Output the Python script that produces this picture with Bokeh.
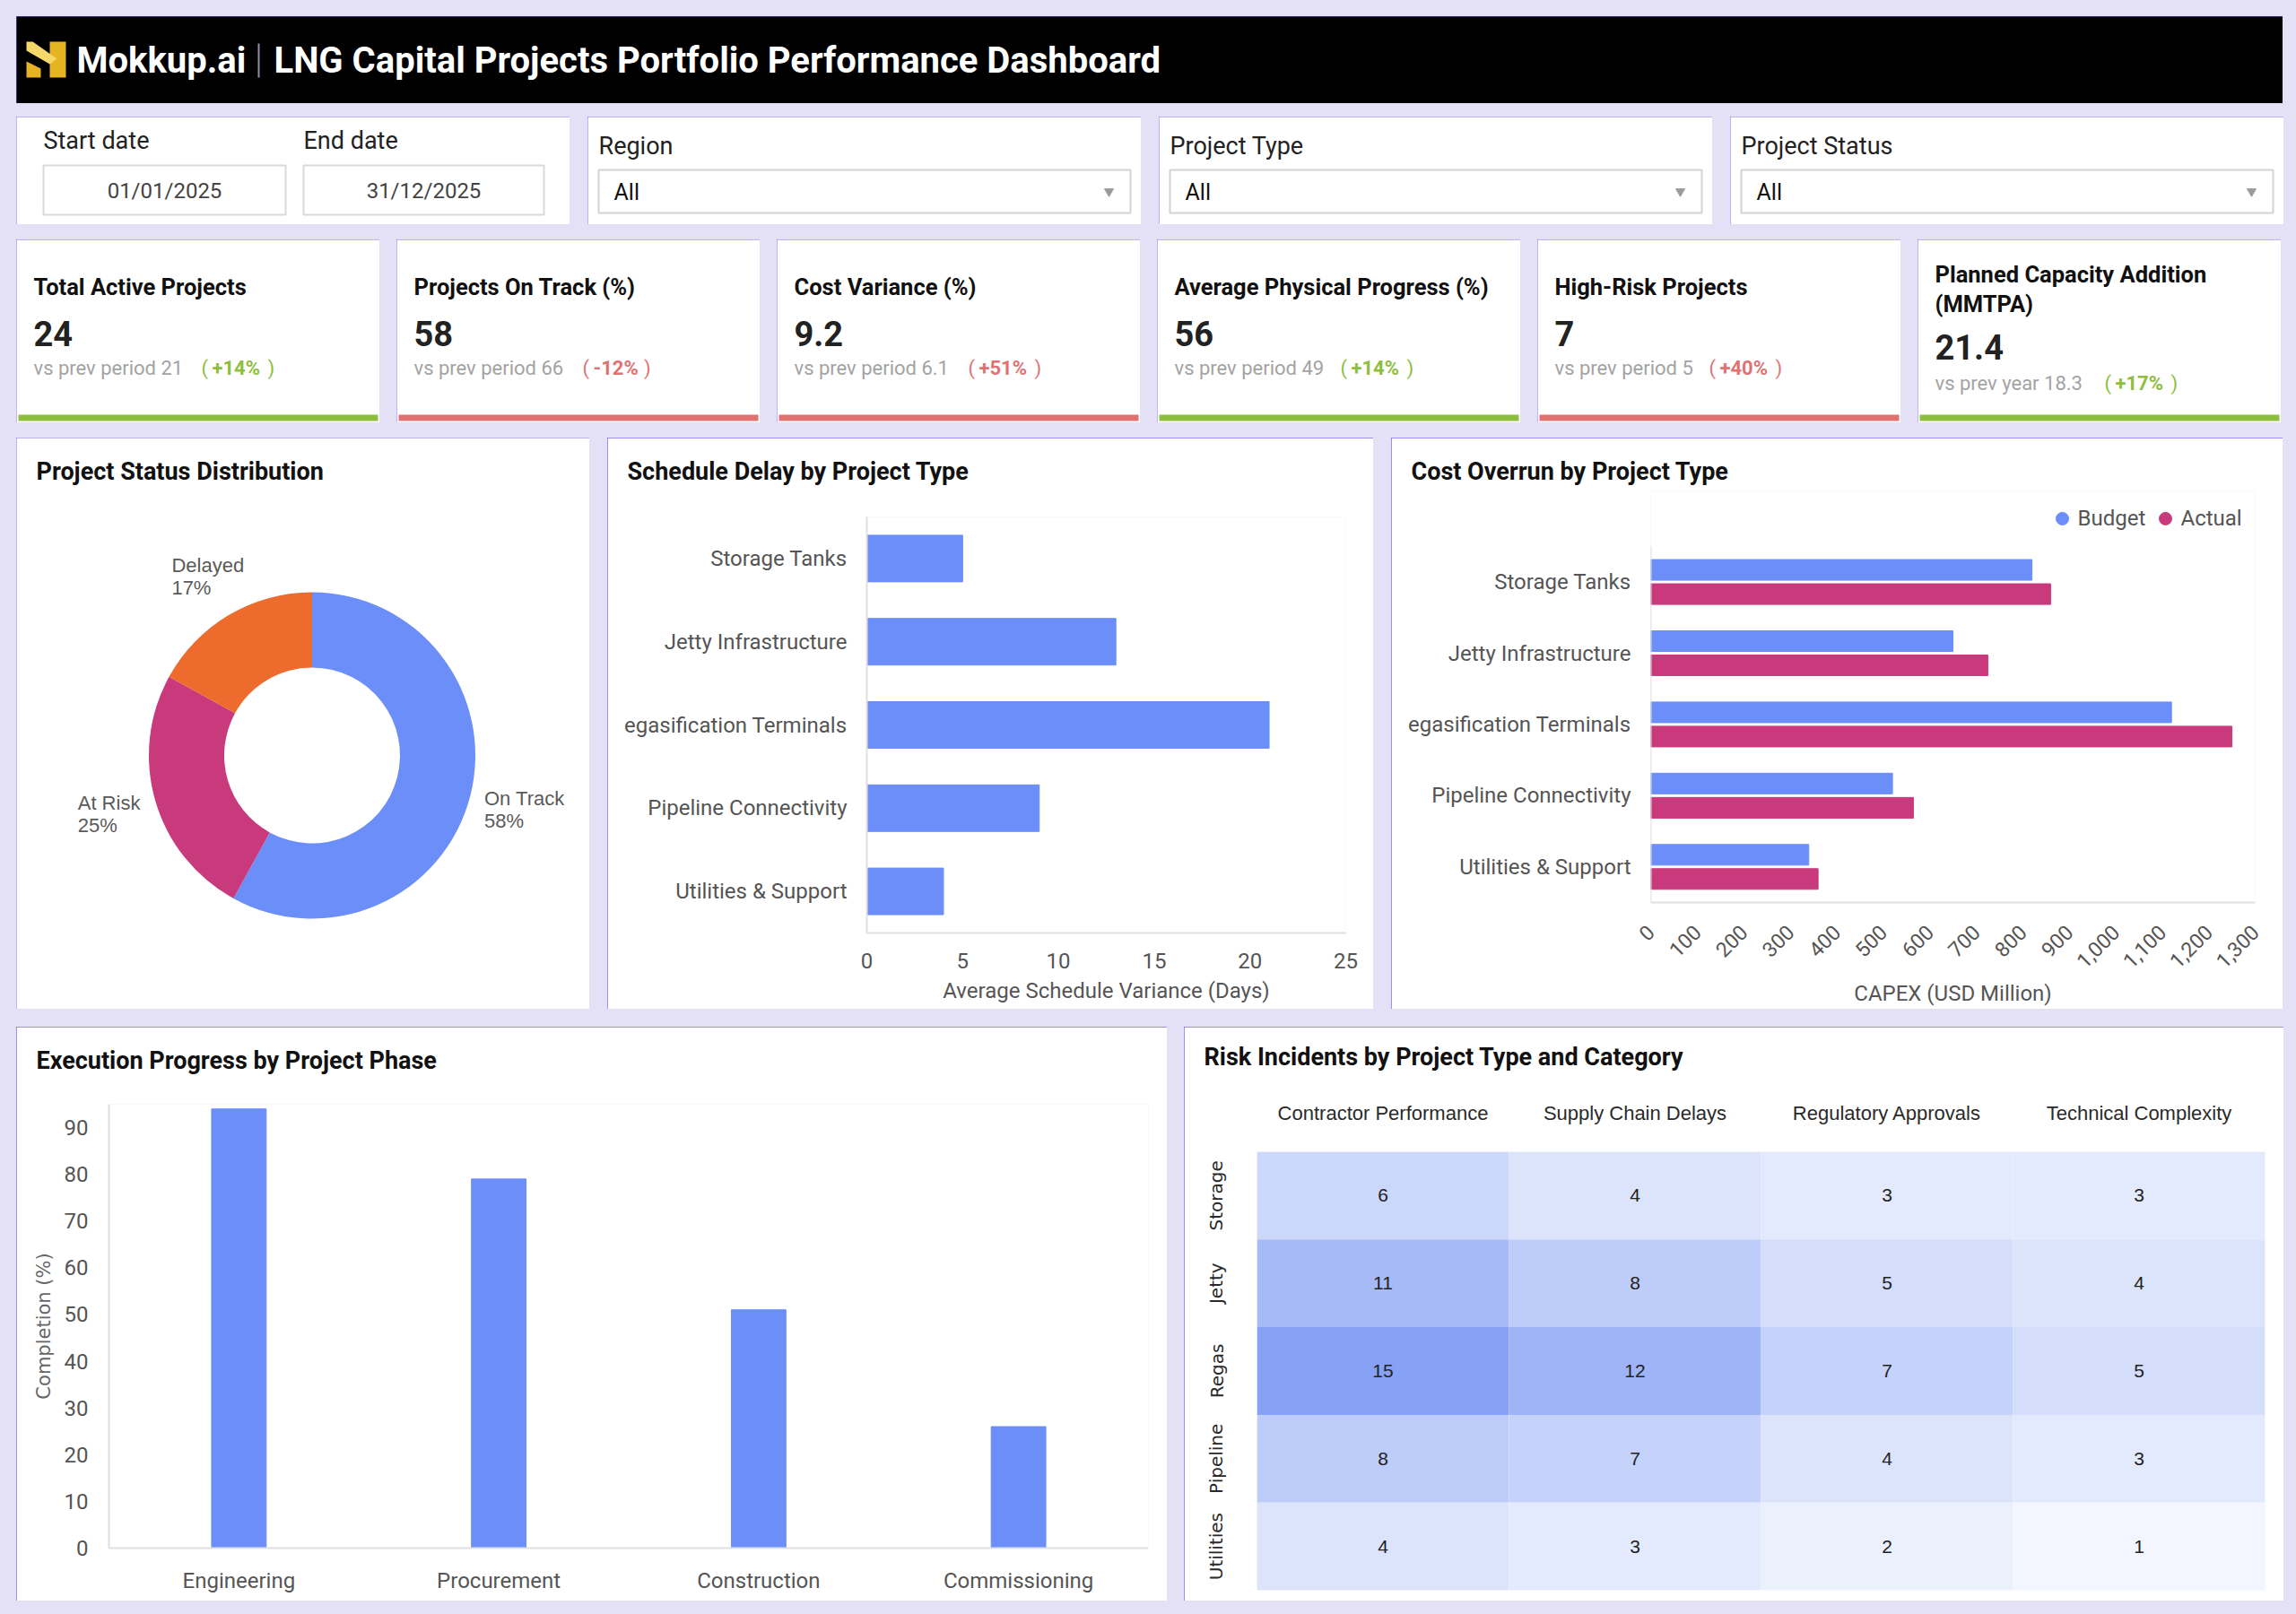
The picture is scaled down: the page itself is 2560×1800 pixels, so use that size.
import math
import numpy as np
from bokeh.plotting import figure
from bokeh.layouts import row, column
from bokeh.models import (Range1d, FactorRange, Title, FixedTicker,
                          NumeralTickFormatter, LinearColorMapper, ColumnDataSource, Spacer)
from bokeh.transform import transform
from bokeh.core.properties import value
from bokeh.embed import file_html
from bokeh.resources import INLINE

# ---------------- data ----------------
brand = "Mokkup.ai"
dash_title = "LNG Capital Projects Portfolio Performance Dashboard"

start_date = "01/01/2025"
end_date = "31/12/2025"
filter_labels = ["Region", "Project Type", "Project Status"]
filter_values = ["All", "All", "All"]

kpi_titles = ["Total Active Projects", "Projects On Track (%)", "Cost Variance (%)",
              "Average Physical Progress (%)", "High-Risk Projects",
              "Planned Capacity Addition\n(MMTPA)"]
kpi_values = ["24", "58", "9.2", "56", "7", "21.4"]
kpi_prev = ["vs prev period 21", "vs prev period 66", "vs prev period 6.1",
            "vs prev period 49", "vs prev period 5", "vs prev year 18.3"]
kpi_change = ["+14%", "-12%", "+51%", "+14%", "+40%", "+17%"]
kpi_good = [True, False, False, True, False, True]

status_names = ["On Track", "At Risk", "Delayed"]
status_share = [58, 25, 17]

# axis labels as they appear (the long one is cut at the panel edge in the original)
project_types = ["Storage Tanks", "Jetty Infrastructure", "egasification Terminals",
                 "Pipeline Connectivity", "Utilities & Support"]
delay_days = [5, 13, 21, 9, 4]
capex_series = ["Budget", "Actual"]
capex_budget = [820, 650, 1120, 520, 340]
capex_actual = [860, 725, 1250, 565, 360]
delay_ticks = [0, 5, 10, 15, 20, 25]
capex_ticks = list(range(0, 1301, 100))

phases = ["Engineering", "Procurement", "Construction", "Commissioning"]
phase_completion = [94, 79, 51, 26]
phase_ticks = list(range(0, 91, 10))

risk_types = ["Storage", "Jetty", "Regas", "Pipeline", "Utilities"]
risk_categories = ["Contractor Performance", "Supply Chain Delays",
                   "Regulatory Approvals", "Technical Complexity"]
risk_counts = [[6, 4, 3, 3],
               [11, 8, 5, 4],
               [15, 12, 7, 5],
               [8, 7, 4, 3],
               [4, 3, 2, 1]]

# ---------------- style ----------------
BG = "#E4E1F6"
BORDER = "#7B68EE"
BLUE = "#6C8EF8"
MAGENTA = "#C93A7C"
ORANGE = "#EC6B2D"
GREEN = "#8DBE3C"
RED = "#E07272"
AXIS_GREY = "#E0E0E0"
LABEL_GREY = "#555555"
status_colors = [BLUE, MAGENTA, ORANGE]
BASE_SHIFT = 0.35  # alphabetic baseline correction (em)
TITLE_SIZE = 27


def panel_styles(w=2):
    return {"outline": f"{w}px solid {BORDER}", "outline-offset": f"-{w}px"}


def pixel_fig(w, h, bg="white", flip=True, border=2):
    p = figure(width=w, height=h, x_range=Range1d(0, w),
               y_range=(Range1d(h, 0) if flip else Range1d(0, h)),
               x_axis_type=None, y_axis_type=None, title=None,
               toolbar_location=None, output_backend="svg", min_border=0,
               frame_align=False, styles=panel_styles(border))
    p.background_fill_color = bg
    p.border_fill_color = bg
    p.outline_line_color = None
    return p


def put_text(p, x, y, s, size, color="#222222", bold=False, font="Roboto",
             align="left", baseline="alphabetic", flip=True):
    if baseline == "alphabetic":
        y = y - BASE_SHIFT * size if flip else y + BASE_SHIFT * size
    p.text(x=[x], y=[y], text=[s], text_font=value(font),
           text_font_size=value(f"{size}px"), text_color=color,
           text_font_style=("bold" if bold else "normal"),
           text_align=align, text_baseline=baseline)


def chart_fig(w, h, left, right, top, bottom, x_range, y_range, **kw):
    p = figure(width=w, height=h, x_range=x_range, y_range=y_range, title=None,
               toolbar_location=None, output_backend="svg",
               min_border_left=left, min_border_right=right,
               min_border_top=top, min_border_bottom=bottom,
               frame_align=False, styles=panel_styles(2), **kw)
    p.background_fill_color = "white"
    p.border_fill_color = "white"
    p.outline_line_color = None
    p.xgrid.grid_line_color = None
    p.ygrid.grid_line_color = None
    return p


def add_title(p, text, frame_left, gap):
    # invisible spacer between frame/axis and the title
    p.add_layout(Title(text=" ", text_font_size="1px", standoff=gap), "above")
    p.add_layout(Title(text=text, align="left", offset=22 - frame_left, vertical_align="middle",
                       standoff=0, text_font="Roboto", text_font_size=f"{TITLE_SIZE}px",
                       text_font_style="bold", text_color="#111111"), "above")


def style_axis(ax, size=24, color=LABEL_GREY, font="Roboto", line=AXIS_GREY):
    ax.major_label_text_font = font
    ax.major_label_text_font_size = f"{size}px"
    ax.major_label_text_color = color
    ax.major_tick_line_color = None
    ax.minor_tick_line_color = None
    ax.major_tick_out = 0
    ax.major_tick_in = 0
    ax.axis_line_color = line
    ax.axis_line_width = 2
    ax.axis_label_text_font = font
    ax.axis_label_text_font_size = f"{size}px"
    ax.axis_label_text_color = color
    ax.axis_label_text_font_style = "normal"


CHAR_W = {"+": 0.57, "-": 0.32, "%": 0.74, ".": 0.27}


def est_width(s, size):
    return sum(CHAR_W.get(ch, 0.57) for ch in s) * size


# ---------------- header ----------------
hdr = pixel_fig(2527, 97, bg="black", border=3)
lx, ly = 11, 28
hdr.patches(xs=[[lx + 26, lx + 44, lx + 44, lx + 26],
                [lx + 0, lx + 16, lx + 16, lx + 0],
                [lx + 0, lx + 7, lx + 34, lx + 26, lx + 0]],
            ys=[[ly + 0, ly + 0, ly + 40, ly + 40],
                [ly + 22, ly + 30, ly + 40, ly + 40],
                [ly + 0, ly + 0, ly + 19, ly + 25, ly + 10]],
            fill_color=["#E6B422", "#E6B422", "#F6D86A"], line_color=None)
put_text(hdr, 67, 63, brand, 40, "white", bold=True)
hdr.segment(x0=[270], y0=[30], x1=[270], y1=[68], line_color="#8C90A8", line_width=2)
put_text(hdr, 287, 63, dash_title, 40, "white", bold=True)

# ---------------- filters ----------------
FW, FH = 617, 120
f_date = pixel_fig(FW, FH)
put_text(f_date, 30, 36, "Start date", 27)
put_text(f_date, 320, 36, "End date", 27)
f_date.quad(left=[30, 320], right=[300, 588], top=[54, 54], bottom=[109, 109],
            fill_color="white", line_color="#D9D9D9", line_width=2)
put_text(f_date, 165, 82, start_date, 24, "#444444", align="center", baseline="middle")
put_text(f_date, 454, 82, end_date, 24, "#444444", align="center", baseline="middle")
filter_figs = [f_date]
for lab, val in zip(filter_labels, filter_values):
    f = pixel_fig(FW, FH)
    put_text(f, 12, 42, lab, 27)
    f.quad(left=[12], right=[605], top=[59], bottom=[107], fill_color="white",
           line_color="#D3D3D3", line_width=2)
    put_text(f, 29, 84, val, 25, "#111111", baseline="middle")
    f.scatter(x=[581], y=[83], marker="inverted_triangle", size=10, color="#9B9B9B")
    filter_figs.append(f)

# ---------------- KPI cards ----------------
KW, KH = 405, 204
delta_x = [206, 207, 213, 204, 191, 208]
kpi_figs = []
for i in range(6):
    k = pixel_fig(KW, KH)
    lines = kpi_titles[i].split("\n")
    if len(lines) == 1:
        ty, vy, sy = [61], 118, 151
    else:
        ty, vy, sy = [47, 80], 133, 168
    for ln, yy in zip(lines, ty):
        put_text(k, 19, yy, ln, 25.5, "#111111", bold=True)
    put_text(k, 19, vy, kpi_values[i], 38, "#222222", bold=True)
    put_text(k, 19, sy, kpi_prev[i], 22, "#A3A3A3")
    col = GREEN if kpi_good[i] else RED
    x0 = delta_x[i]
    put_text(k, x0, sy, "(", 22, col)
    put_text(k, x0 + 12, sy, kpi_change[i], 22, col, bold=True)
    put_text(k, x0 + 12 + est_width(kpi_change[i], 22) + 8, sy, ")", 22, col)
    k.quad(left=[2], right=[KW - 2], top=[KH - 9], bottom=[KH - 2], fill_color=col, line_color=None)
    kpi_figs.append(k)

# ---------------- donut ----------------
DW, DH = 639, 637
donut = pixel_fig(DW, DH, flip=False)
put_text(donut, 22, DH - 47, "Project Status Distribution", TITLE_SIZE, "#111111", bold=True, flip=False)
cx, cy = 329.5, 283
frac = np.array(status_share, dtype=float) / sum(status_share)
cum = np.concatenate([[0.0], np.cumsum(frac)])
starts = np.pi / 2 - 2 * np.pi * cum[:-1]
ends = np.pi / 2 - 2 * np.pi * cum[1:]
dsrc = ColumnDataSource(dict(x=[cx] * 3, y=[cy] * 3, s=starts, e=ends, c=status_colors))
donut.annular_wedge(x="x", y="y", inner_radius=98, outer_radius=182, start_angle="s",
                    end_angle="e", direction="clock", fill_color="c", line_color=None, source=dsrc)
mids = (starts + ends) / 2
for name, share, m in zip(status_names, status_share, mids):
    r_lab = 232 + 12 * max(math.cos(m), 0.0)
    lxp = cx + r_lab * math.cos(m) - 0.5 * 11 * len(name)
    lyp = cy + r_lab * math.sin(m)
    put_text(donut, lxp, lyp + 4.5, name, 22, "#5A5A5A", font="Liberation Sans", flip=False)
    put_text(donut, lxp, lyp - 20.5, f"{share}%", 22, "#5A5A5A", font="Liberation Sans", flip=False)

# ---------------- schedule delay ----------------
SW, SH, SL, SR, ST, SB = 854, 637, 289, 31, 88, 85
sched = chart_fig(SW, SH, SL, SR, ST, SB, Range1d(0, 25), FactorRange(factors=project_types[::-1]))
sched.hbar(y=project_types, right=delay_days, left=0, height=0.56, color=BLUE)
style_axis(sched.xaxis[0], 24)
style_axis(sched.yaxis[0], 24)
sched.xaxis.ticker = FixedTicker(ticks=delay_ticks)
sched.xaxis.axis_label = "Average Schedule Variance (Days)"
sched.xaxis.major_label_standoff = 22
sched.xaxis.axis_label_standoff = 8
sched.yaxis.major_label_standoff = 22
add_title(sched, "Schedule Delay by Project Type", SL, 31)

# ---------------- cost overrun ----------------
# frame extends above the first bar group so that the legend row lives inside it
CW, CH, CL, CR, CT, CB = 994, 637, 289, 31, 60, 118
BAND = 79.6                                   # px per category band
n_types = len(project_types)
c_frame_h = CH - CT - CB
cost_y = Range1d(-0.5, -0.5 + c_frame_h / BAND)
cost = chart_fig(CW, CH, CL, CR, CT, CB, Range1d(0, 1300), cost_y)
cpos = [n_types - 1 - i for i in range(n_types)]   # first type on top
csrc = ColumnDataSource(dict(pos=cpos, b=capex_budget, a=capex_actual,
                             yb=[p + 0.17 for p in cpos], ya=[p - 0.17 for p in cpos]))
cost.hbar(y="yb", right="b", left=0, height=0.29, color=BLUE, source=csrc)
cost.hbar(y="ya", right="a", left=0, height=0.29, color=MAGENTA, source=csrc)
style_axis(cost.xaxis[0], 23)
style_axis(cost.yaxis[0], 24, line=None)
cost.xaxis.ticker = FixedTicker(ticks=capex_ticks)
cost.xaxis.formatter = NumeralTickFormatter(format="0,0")
cost.xaxis.major_label_orientation = math.pi / 4
cost.xaxis.major_label_standoff = 29
cost.xaxis.axis_label = "CAPEX (USD Million)"
cost.xaxis.axis_label_text_font_size = "24px"
cost.xaxis.axis_label_standoff = 4
cost.yaxis.ticker = FixedTicker(ticks=cpos)
cost.yaxis.major_label_overrides = {p: t for p, t in zip(cpos, project_types)}
cost.yaxis.major_label_standoff = 22
# category axis line (only over the category bands)
cost.segment(x0=[0], y0=[-0.5], x1=[0], y1=[n_types - 0.5], line_color=AXIS_GREY, line_width=2)
# legend row (dot + label), placed in pixels above the first band
ux = (CW - CL - CR) / 1300.0
leg_y = -0.5 + (CH - CB - 90) / BAND
leg_dot_px = [459, 574]
leg_txt_px = [476, 591]
cost.scatter(x=[d / ux for d in leg_dot_px], y=[leg_y] * 2, marker="circle", size=14,
             color=[BLUE, MAGENTA])
cost.text(x=[d / ux for d in leg_txt_px], y=[leg_y] * 2, text=capex_series,
          text_font=value("Roboto"), text_font_size=value("24px"), text_color=LABEL_GREY,
          text_baseline="middle", text_align="left")
add_title(cost, "Cost Overrun by Project Type", CL, 3)

# ---------------- execution progress ----------------
EW, EH, EL, ER, ET, EB = 1283, 640, 103, 21, 86, 59
exe = chart_fig(EW, EH, EL, ER, ET, EB, FactorRange(factors=phases), Range1d(0, 95))
exe.vbar(x=phases, top=phase_completion, bottom=0, width=0.21, color=BLUE)
style_axis(exe.xaxis[0], 24)
style_axis(exe.yaxis[0], 24)
exe.yaxis.ticker = FixedTicker(ticks=phase_ticks)
exe.yaxis.major_label_standoff = 23
exe.yaxis.axis_label = "Completion (%)"
exe.yaxis.axis_label_text_font = "DejaVu Sans"
exe.yaxis.axis_label_text_font_size = "21px"
exe.yaxis.axis_label_text_color = "#666666"
exe.yaxis.axis_label_standoff = 8
exe.xaxis.major_label_standoff = 22
add_title(exe, "Execution Progress by Project Phase", EL, 29)

# ---------------- risk heatmap ----------------
HW, HH, HL, HR, HT, HB = 1226, 640, 81, 21, 139, 12
heat = chart_fig(HW, HH, HL, HR, HT, HB, FactorRange(factors=risk_categories),
                 FactorRange(factors=risk_types[::-1]), x_axis_location="above")
hx, hy, hv = [], [], []
for t, rowvals in zip(risk_types, risk_counts):
    for c, v in zip(risk_categories, rowvals):
        hx.append(c)
        hy.append(t)
        hv.append(v)
hsrc = ColumnDataSource(dict(x=hx, y=hy, v=hv, s=[str(v) for v in hv]))


def _lerp(c0, c1, n):
    a = np.array([int(c0[i:i + 2], 16) for i in (1, 3, 5)], dtype=float)
    b = np.array([int(c1[i:i + 2], 16) for i in (1, 3, 5)], dtype=float)
    out = []
    for t in np.linspace(0, 1, n):
        r, g, bb = (a + (b - a) * t).round().astype(int)
        out.append(f"#{r:02x}{g:02x}{bb:02x}")
    return out


mapper = LinearColorMapper(palette=_lerp("#F3F6FE", "#87A2F4", 256), low=min(hv), high=max(hv))
heat.rect(x="x", y="y", width=1, height=1, fill_color=transform("v", mapper), line_color=None, source=hsrc)
heat.text(x="x", y="y", text="s", text_align="center", text_baseline="middle",
          text_font=value("Liberation Sans"), text_font_size=value("21px"), text_color="#222222", source=hsrc)
style_axis(heat.xaxis[0], 22, "#2A2A2A", "Liberation Sans", None)
style_axis(heat.yaxis[0], 20, "#2A2A2A", "DejaVu Sans", None)
heat.xaxis.major_label_standoff = 31
heat.yaxis.major_label_orientation = "vertical"
heat.yaxis.major_label_standoff = 33
add_title(heat, "Risk Incidents by Project Type and Category", HL, 27)

# ---------------- layout ----------------
content = column(
    hdr,
    Spacer(height=15),
    row(*filter_figs, spacing=20),
    Spacer(height=17),
    row(*kpi_figs, spacing=19),
    Spacer(height=17),
    row(donut, sched, cost, spacing=20),
    Spacer(height=20),
    row(exe, heat, spacing=19),
)
page = column(Spacer(height=18), row(Spacer(width=18), content), width=2560, height=1800,
              styles={"background-color": BG})

open("out.html", "w").write(file_html(page, INLINE))
